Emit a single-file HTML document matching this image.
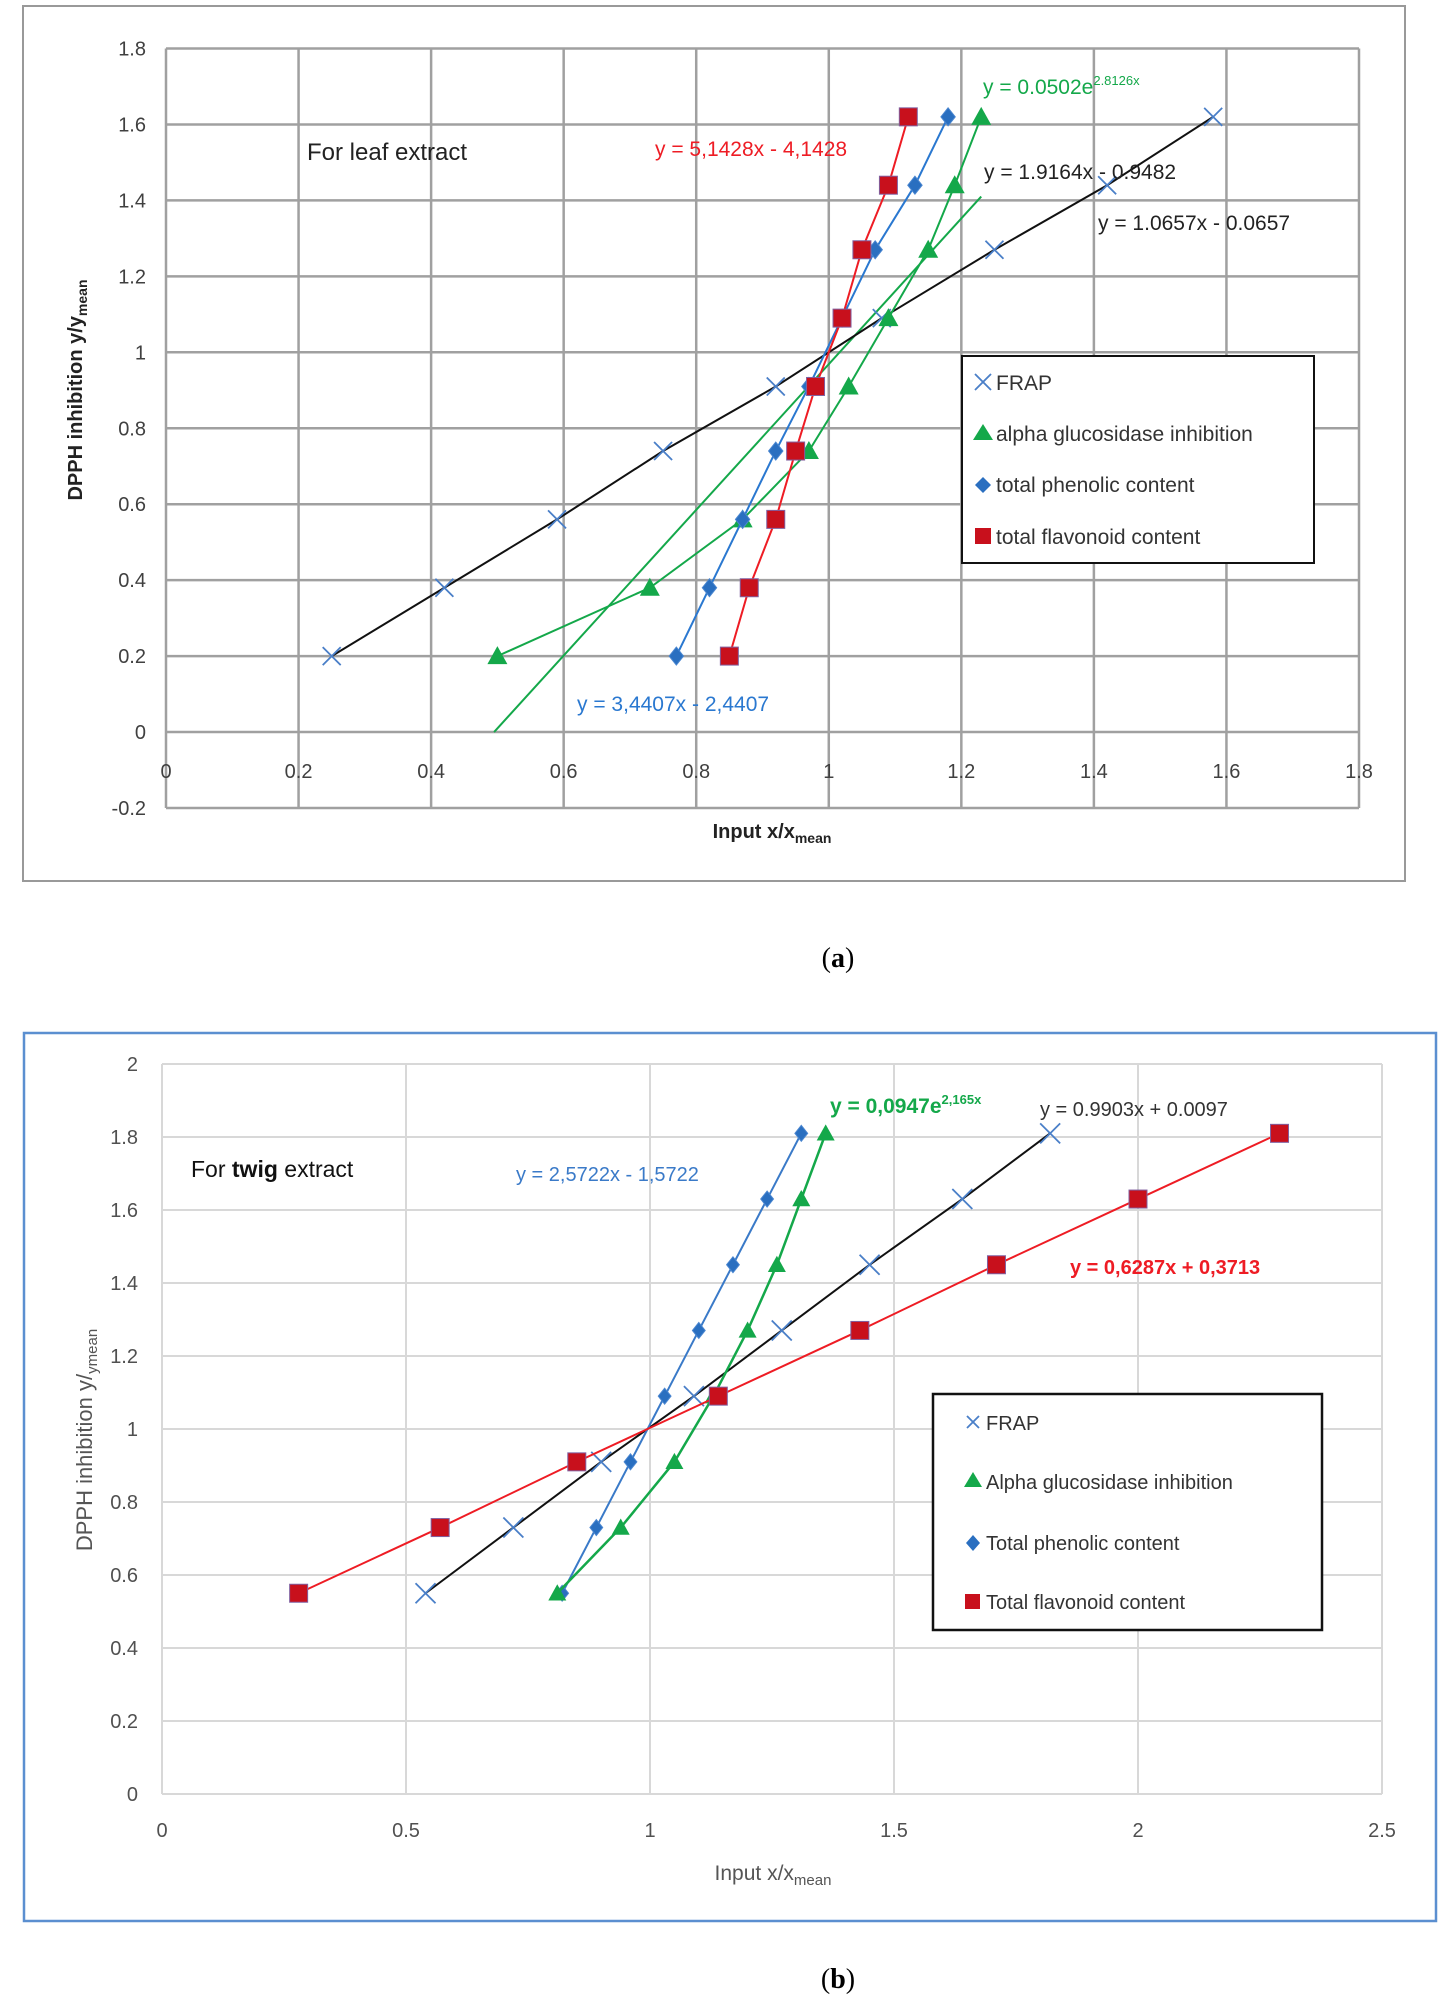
<!DOCTYPE html>
<html><head><meta charset="utf-8"><style>
body{margin:0;background:#fff;}
svg{display:block;font-family:"Liberation Sans",sans-serif;}
</style></head><body>
<svg id="svg" width="1455" height="2003">
<rect x="23" y="6" width="1382" height="875" fill="#fff" stroke="#999" stroke-width="2"/>
<rect x="24" y="1033" width="1412" height="888" fill="#fff" stroke="#5b8fd0" stroke-width="2.5"/>
<g id="ga"></g>
<g id="gb"></g>
<text x="838" y="967" font-family="Liberation Serif,serif" font-size="28" text-anchor="middle">(<tspan font-weight="bold">a</tspan>)</text>
<text x="838" y="1988" font-family="Liberation Serif,serif" font-size="28" text-anchor="middle">(<tspan font-weight="bold">b</tspan>)</text>
</svg>
<script>
// chart a data
const aXTicks=[0,0.2,0.4,0.6,0.8,1,1.2,1.4,1.6,1.8];
const aYTicks=[-0.2,0,0.2,0.4,0.6,0.8,1,1.2,1.4,1.6,1.8];
const aFrapX=[0.25,0.42,0.59,0.75,0.92,1.08,1.25,1.42,1.58];
const aFrapY=[0.2,0.38,0.56,0.74,0.91,1.09,1.27,1.44,1.62];
const aAlphaX=[0.5,0.73,0.87,0.97,1.03,1.09,1.15,1.19,1.23];
const aAlphaY=[0.2,0.38,0.56,0.74,0.91,1.09,1.27,1.44,1.62];
const aPhenX=[0.77,0.82,0.87,0.92,0.97,1.02,1.07,1.13,1.18];
const aPhenY=[0.2,0.38,0.56,0.74,0.91,1.09,1.27,1.44,1.62];
const aFlavX=[0.85,0.88,0.92,0.95,0.98,1.02,1.05,1.09,1.12];
const aFlavY=[0.2,0.38,0.56,0.74,0.91,1.09,1.27,1.44,1.62];
const aTrendX=[0.495,1.23];
const aTrendY=[0,1.41];
// chart b data
const bXTicks=[0,0.5,1,1.5,2,2.5];
const bYTicks=[0,0.2,0.4,0.6,0.8,1,1.2,1.4,1.6,1.8,2];
const bFrapX=[0.54,0.72,0.9,1.09,1.27,1.45,1.64,1.82];
const bFrapY=[0.55,0.73,0.91,1.09,1.27,1.45,1.63,1.81];
const bAlphaX=[0.81,0.94,1.05,1.13,1.2,1.26,1.31,1.36];
const bAlphaY=[0.55,0.73,0.91,1.09,1.27,1.45,1.63,1.81];
const bPhenX=[0.82,0.89,0.96,1.03,1.1,1.17,1.24,1.31];
const bPhenY=[0.55,0.73,0.91,1.09,1.27,1.45,1.63,1.81];
const bFlavX=[0.28,0.57,0.85,1.14,1.43,1.71,2.0,2.29];
const bFlavY=[0.55,0.73,0.91,1.09,1.27,1.45,1.63,1.81];

const NS="http://www.w3.org/2000/svg";
function mk(parent,tag,attrs,text){const e=document.createElementNS(NS,tag);for(const k in attrs)e.setAttribute(k,attrs[k]);if(text!==undefined)e.textContent=text;parent.appendChild(e);return e;}
function marker(g,type,cx,cy,s){
  let e;
  if(type==='x'){e=mk(g,'path',{d:`M${cx-s} ${cy-s}L${cx+s} ${cy+s}M${cx-s} ${cy+s}L${cx+s} ${cy-s}`,stroke:'#4a7fc8','stroke-width':1.8,fill:'none'});}
  else if(type==='tri'){e=mk(g,'polygon',{points:`${cx},${cy-s} ${cx+s},${cy+s*0.8} ${cx-s},${cy+s*0.8}`,fill:'#14a84a'});}
  else if(type==='dia'){e=mk(g,'polygon',{points:`${cx},${cy-s} ${cx+s*0.8},${cy} ${cx},${cy+s} ${cx-s*0.8},${cy}`,fill:'#2a6fc0',stroke:'#4a86d0','stroke-width':1});}
  else {e=mk(g,'rect',{x:cx-s,y:cy-s,width:2*s,height:2*s,fill:'#c8101c',stroke:'#8060a0','stroke-width':1});}
  return e;
}
function series(g,X,Y,sx,sy,color,type,s,name,lw){
  const pts=X.map((x,i)=>sx(x)+','+sy(Y[i])).join(' ');
  const l=mk(g,'polyline',{points:pts,fill:'none',stroke:color,'stroke-width':lw||2});
  
  
  X.forEach((x,i)=>{const m=marker(g,type,sx(x),sy(Y[i]),s);
    
    });
}
// ---- chart A ----
(function(){
const g=document.getElementById('ga');
const L=166,R=1359,T=48.5,B=808;
const sx=v=>L+(v-0)/1.8*(R-L);
const sy=v=>B-(v+0.2)/2.0*(B-T);
aXTicks.forEach(v=>{const l=mk(g,'line',{x1:sx(v),x2:sx(v),y1:T,y2:B,stroke:'#a0a0a0','stroke-width':2.5});
  
  const t=mk(g,'text',{x:sx(v),y:778,'font-size':20,fill:'#404040','text-anchor':'middle'},String(v));
  });
aYTicks.forEach(v=>{const l=mk(g,'line',{x1:L,x2:R,y1:sy(v),y2:sy(v),stroke:'#a0a0a0','stroke-width':2.5});
  
  const t=mk(g,'text',{x:146,y:sy(v)+7,'font-size':20,fill:'#404040','text-anchor':'end'},String(v));
  });
const tr=mk(g,'line',{x1:sx(aTrendX[0]),y1:sy(aTrendY[0]),x2:sx(aTrendX[1]),y2:sy(aTrendY[1]),stroke:'#14a84a','stroke-width':2});

series(g,aFrapX,aFrapY,sx,sy,'#111','x',9,'a-frap');
series(g,aAlphaX,aAlphaY,sx,sy,'#14a84a','tri',10,'a-alpha');
series(g,aPhenX,aPhenY,sx,sy,'#2a78d0','dia',9,'a-phenolic');
series(g,aFlavX,aFlavY,sx,sy,'#ee1c24','sq',9,'a-flavonoid');
})();
// ---- chart B ----
(function(){
const g=document.getElementById('gb');
const L=162,R=1382,T=1064,B=1794;
const sx=v=>L+v/2.5*(R-L);
const sy=v=>B-v/2.0*(B-T);
bXTicks.forEach(v=>{const l=mk(g,'line',{x1:sx(v),x2:sx(v),y1:T,y2:B,stroke:'#d8d8d8','stroke-width':2});
  
  const t=mk(g,'text',{x:sx(v),y:1837,'font-size':20,fill:'#505050','text-anchor':'middle'},String(v));
  });
bYTicks.forEach(v=>{const l=mk(g,'line',{x1:L,x2:R,y1:sy(v),y2:sy(v),stroke:'#d8d8d8','stroke-width':2});
  
  const t=mk(g,'text',{x:138,y:sy(v)+7,'font-size':20,fill:'#505050','text-anchor':'end'},String(v));
  });
series(g,bFrapX,bFrapY,sx,sy,'#111','x',10,'b-frap');
series(g,bPhenX,bPhenY,sx,sy,'#3a7ac8','dia',8,'b-phenolic');
series(g,bAlphaX,bAlphaY,sx,sy,'#14a84a','tri',9,'b-alpha',2.5);
series(g,bFlavX,bFlavY,sx,sy,'#ee1c24','sq',9,'b-flavonoid');
})();
</script>
<svg style="position:absolute;left:0;top:0" width="1455" height="2003">
<g font-family="Liberation Sans,sans-serif">
<text x="307" y="160" font-size="24" fill="#222">For leaf extract</text>
<text x="655" y="156" font-size="21" fill="#ee1c24">y = 5,1428x - 4,1428</text>
<text x="983" y="94" font-size="21" fill="#14a84a">y = 0.0502e<tspan font-size="13" dy="-9">2.8126x</tspan></text>
<text x="984" y="179" font-size="21" fill="#222">y = 1.9164x - 0.9482</text>
<text x="1098" y="230" font-size="21" fill="#222">y = 1.0657x - 0.0657</text>
<text x="577" y="711" font-size="21" fill="#2a78d0">y = 3,4407x - 2,4407</text>
<text x="772" y="838" font-size="20" font-weight="bold" fill="#222" text-anchor="middle">Input x/x<tspan font-size="14" dy="5">mean</tspan></text>
<text transform="translate(82,390) rotate(-90)" font-size="20" font-weight="bold" fill="#222" text-anchor="middle">DPPH inhibition y/y<tspan font-size="14" dy="5">mean</tspan></text>
<g>
<rect x="962" y="356" width="352" height="207" fill="#fff" stroke="#111" stroke-width="2"/>
<path d="M975 374L991 390M975 390L991 374" stroke="#4a7fc8" stroke-width="1.8"/>
<text x="996" y="390" font-size="21" fill="#333">FRAP</text>
<polygon points="983,424 993,440 973,440" fill="#14a84a"/>
<text x="996" y="441" font-size="21" fill="#333">alpha glucosidase inhibition</text>
<polygon points="983,477 991,485 983,493 975,485" fill="#2a6fc0"/>
<text x="996" y="492" font-size="21" fill="#333">total phenolic content</text>
<rect x="975" y="528" width="16" height="16" fill="#c8101c"/>
<text x="996" y="544" font-size="21" fill="#333">total flavonoid content</text>
</g>
<text x="191" y="1177" font-size="23" fill="#111">For <tspan font-weight="bold">twig</tspan> extract</text>
<text x="516" y="1181" font-size="20" fill="#3a7ac8">y = 2,5722x - 1,5722</text>
<text x="830" y="1113" font-size="21" font-weight="bold" fill="#14a84a">y = 0,0947e<tspan font-size="13" dy="-9">2,165x</tspan></text>
<text x="1040" y="1116" font-size="20" fill="#333">y = 0.9903x + 0.0097</text>
<text x="1070" y="1274" font-size="20" font-weight="bold" fill="#ee1c24">y = 0,6287x + 0,3713</text>
<text x="773" y="1880" font-size="21" fill="#555" text-anchor="middle">Input x/x<tspan font-size="15" dy="5">mean</tspan></text>
<text transform="translate(92,1440) rotate(-90)" font-size="22" fill="#555" text-anchor="middle">DPPH inhibition y/<tspan font-size="15" dy="5">ymean</tspan></text>
<g>
<rect x="933" y="1394" width="389" height="236" fill="#fff" stroke="#111" stroke-width="2.5"/>
<path d="M967 1416L979 1428M967 1428L979 1416" stroke="#4a7fc8" stroke-width="1.8"/>
<text x="986" y="1430" font-size="20" fill="#333">FRAP</text>
<polygon points="973,1472 982,1487 964,1487" fill="#14a84a"/>
<text x="986" y="1489" font-size="20" fill="#333">Alpha glucosidase inhibition</text>
<polygon points="973,1535 980,1543 973,1551 966,1543" fill="#2a6fc0"/>
<text x="986" y="1550" font-size="20" fill="#333">Total phenolic content</text>
<rect x="965" y="1594" width="15" height="15" fill="#c8101c"/>
<text x="986" y="1609" font-size="20" fill="#333">Total flavonoid content</text>
</g>
</g>
</svg>
</body></html>
